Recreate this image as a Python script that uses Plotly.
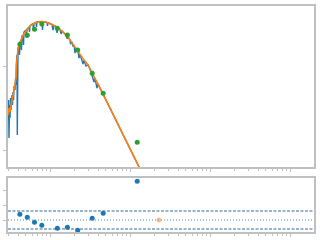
import math
import plotly.graph_objects as go

# ---- model spectrum (blue, high resolution) : wavelength [um], flux [Jy]
spec_wave = [0.300, 0.303, 0.307, 0.312, 0.316, 0.321, 0.325, 0.335, 0.340, 0.345, 0.350, 0.355,
             0.365, 0.371, 0.376, 0.381, 0.387, 0.390, 0.394, 0.398, 0.410, 0.416, 0.422, 0.434,
             0.440, 0.447, 0.460, 0.467, 0.473, 0.487, 0.501, 0.508, 0.516, 0.531, 0.546, 0.554,
             0.562, 0.579, 0.596, 0.613, 0.622, 0.631, 0.649, 0.668, 0.678, 0.688, 0.708, 0.750,
             0.794, 0.806, 0.818, 0.866, 0.917, 0.931, 0.944, 1.000, 1.059, 1.090, 1.122, 1.189,
             1.223, 1.259, 1.334, 1.373, 1.413, 1.496, 1.585, 1.631, 1.679, 1.778, 1.804, 1.884,
             1.939, 1.995, 2.053, 2.113, 2.239, 2.304, 2.371, 2.585, 2.661, 2.818, 2.985, 3.162,
             3.548, 3.652, 3.868, 3.981, 4.217, 5.623, 7.499, 10.0, 12.59, 13.34]
spec_flux = [0.230, 0.400, 0.140, 0.348, 0.243, 0.423, 0.303, 0.460, 0.348, 0.500, 0.400, 0.590,
             0.528, 0.736, 0.607, 1.15, 1.40, 0.152, 1.52, 1.69, 1.79, 1.40, 2.00, 2.12,
             1.60, 2.36, 2.43, 1.84, 2.64, 2.71, 2.79, 2.24, 2.87, 2.95, 3.03, 2.64,
             3.12, 3.21, 3.25, 3.30, 2.71, 3.34, 3.39, 3.44, 3.03, 3.48, 3.48, 3.53,
             3.53, 2.79, 3.48, 3.48, 3.44, 3.12, 3.39, 3.34, 3.25, 2.79, 3.16, 3.08,
             2.57, 2.95, 2.83, 2.50, 2.71, 2.57, 2.43, 2.24, 2.30, 2.12, 1.89, 1.97,
             1.79, 1.84, 1.47, 1.69, 1.56, 1.28, 1.43, 1.087, 1.21, 1.028, 1.06, 0.946,
             0.660, 0.727, 0.558, 0.624, 0.558, 0.321, 0.184, 0.1057, 0.0659, 0.0590]

# ---- binned / smoothed model (orange)
bin_wave = [0.300, 0.307, 0.316, 0.325, 0.335, 0.345, 0.355, 0.365, 0.376, 0.381, 0.387, 0.398,
            0.410, 0.422, 0.447, 0.473, 0.501, 0.531, 0.562, 0.596, 0.631, 0.668, 0.708, 0.750,
            0.794, 0.841, 0.891, 0.944, 1.000, 1.059, 1.122, 1.189, 1.259, 1.334, 1.413, 1.496,
            1.585, 1.679, 1.778, 1.884, 1.995, 2.113, 2.239, 2.371, 2.661, 2.985, 3.162, 4.217,
            5.623, 7.499, 10.0, 12.59, 13.34]
bin_flux = [0.264, 0.321, 0.287, 0.358, 0.400, 0.447, 0.528, 0.607, 0.736, 1.06, 1.40, 1.65,
            1.84, 2.00, 2.24, 2.50, 2.71, 2.91, 3.12, 3.25, 3.34, 3.44, 3.48, 3.53,
            3.53, 3.48, 3.48, 3.39, 3.34, 3.25, 3.16, 3.08, 2.95, 2.83, 2.71, 2.57,
            2.43, 2.30, 2.12, 1.97, 1.84, 1.69, 1.56, 1.43, 1.21, 1.06, 0.946, 0.558,
            0.321, 0.184, 0.1057, 0.0659, 0.0590]

# ---- photometry (green)
phot_wave = [0.42, 0.52, 0.64, 0.79, 1.235, 1.65, 2.22, 3.37, 4.62, 12.3]
phot_flux = [1.877, 2.41, 2.85, 3.30, 2.93, 2.43, 1.60, 0.840, 0.482, 0.124]

# ---- residuals
resid = [0.38, 0.18, -0.15, -0.35, -0.55, -0.49, -0.69, 0.11, 0.45, 2.58]
lim_wave = [23.0]
lim_resid = [0.0]
resid_zero = 0.0
resid_band = 0.6

# ---- axis settings
x_range_um = (0.2985, 1995.0)
y_range_jy = (0.0624, 5.43)
res_range = (-0.8, 2.8)
x_major = [1, 10, 100, 1000]
x_minor = [m * 10 ** e for e in range(-1, 4) for m in range(2, 10)]
y_major = [0.1, 1]
res_ticks = [0, 1, 2]

BLUE = "#1f77b4"
ORANGE = "#ff7f0e"
GREEN = "#2ca02c"
SPINE = "#c0c0c0"

fig = go.Figure()
fig.add_trace(go.Scatter(x=spec_wave, y=spec_flux, mode="lines",
                         line=dict(color=BLUE, width=1.4), xaxis="x", yaxis="y"))
fig.add_trace(go.Scatter(x=bin_wave, y=bin_flux, mode="lines",
                         line=dict(color=ORANGE, width=1.6), xaxis="x", yaxis="y"))
fig.add_trace(go.Scatter(x=phot_wave, y=phot_flux, mode="markers",
                         marker=dict(color=GREEN, size=5), xaxis="x", yaxis="y"))
fig.add_trace(go.Scatter(x=phot_wave, y=resid, mode="markers",
                         marker=dict(color=BLUE, size=5), xaxis="x2", yaxis="y2"))
fig.add_trace(go.Scatter(x=lim_wave, y=lim_resid, mode="markers",
                         marker=dict(color=ORANGE, size=5, opacity=0.5), xaxis="x2", yaxis="y2"))

for yv, dash, col in [(resid_zero, "1px,2px", "#4a90c8"),
                      (resid_zero + resid_band, "3px,1.5px", "#2e6da4"),
                      (resid_zero - resid_band, "3px,1.5px", "#2e6da4")]:
    fig.add_trace(go.Scatter(x=list(x_range_um), y=[yv, yv], mode="lines",
                             line=dict(color=col, width=1, dash=dash),
                             xaxis="x2", yaxis="y2"))

xr = [math.log10(x_range_um[0]), math.log10(x_range_um[1])]
common_x = dict(type="log", range=xr, showline=True, linecolor=SPINE, linewidth=2,
                mirror=True, showgrid=False, zeroline=False, showticklabels=False,
                ticks="outside", ticklen=3, tickcolor=SPINE, tickwidth=1,
                tickmode="array", tickvals=x_major,
                minor=dict(ticks="outside", ticklen=2, tickcolor=SPINE, tickmode="array",
                           tickvals=x_minor, showgrid=False),
                domain=[8 / 320, 314 / 320])

fig.update_layout(
    width=320, height=240, margin=dict(l=0, r=0, t=0, b=0),
    paper_bgcolor="white", plot_bgcolor="white", showlegend=False,
    xaxis=dict(**common_x, anchor="y"),
    xaxis2=dict(**common_x, anchor="y2"),
    yaxis=dict(type="log", range=[math.log10(y_range_jy[0]), math.log10(y_range_jy[1])],
               domain=[1 - 167 / 240, 1 - 6 / 240], anchor="x",
               showline=True, linecolor=SPINE, linewidth=2, mirror=True,
               showgrid=False, zeroline=False, showticklabels=False,
               ticks="outside", ticklen=3, tickcolor=SPINE, tickmode="array", tickvals=y_major),
    yaxis2=dict(range=list(res_range), domain=[1 - 232 / 240, 1 - 178 / 240], anchor="x2",
                showline=True, linecolor=SPINE, linewidth=2, mirror=True,
                showgrid=False, zeroline=False, showticklabels=False,
                ticks="outside", ticklen=3, tickcolor=SPINE, tickmode="array", tickvals=res_ticks),
)

fig.write_html("out.html")
